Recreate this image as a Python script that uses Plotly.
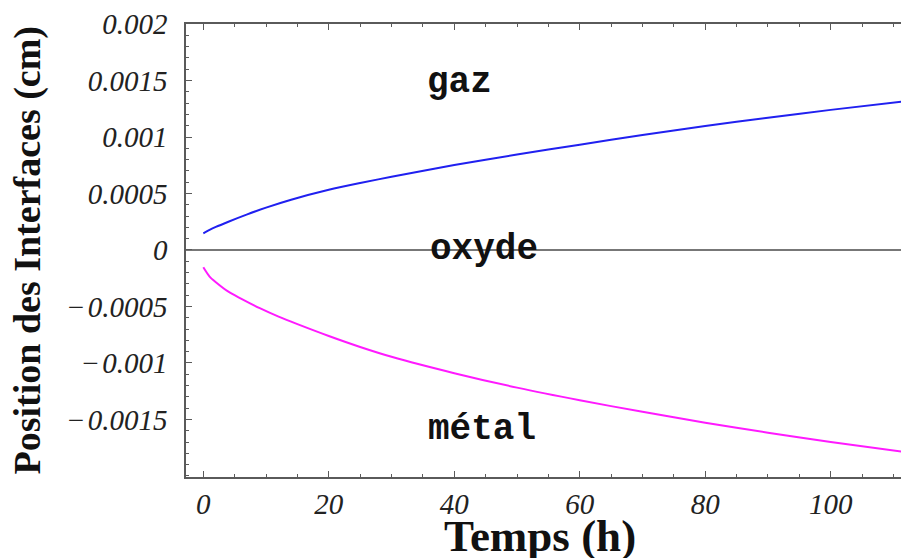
import plotly.graph_objects as go

# Time (h)
t_gaz = [0, 1, 2, 4, 7, 10, 14, 20, 25, 30, 40, 50, 60, 70, 80, 90, 100, 111.5]
# gas/oxide interface position (cm)
pos_gaz = [0.000148, 0.000178, 0.000204, 0.000250, 0.000315, 0.000375, 0.000445,
           0.000533, 0.000593, 0.000648, 0.000752, 0.000845, 0.000932, 0.001017,
           0.001098, 0.001170, 0.001240, 0.001313]

t_metal = [0, 1, 2, 4, 6, 9, 12, 15, 20, 25, 30, 40, 50, 60, 70, 80, 90, 100, 111.5]
# oxide/metal interface position (cm)
pos_metal = [-0.000153, -0.000235, -0.000285, -0.000369, -0.000430, -0.000515, -0.000590,
             -0.000656, -0.000761, -0.000858, -0.000945, -0.001090, -0.001218, -0.001330,
             -0.001432, -0.001528, -0.001617, -0.001700, -0.001785]

x_ticks = [0, 20, 40, 60, 80, 100]
x_ticklabels = ["0", "20", "40", "60", "80", "100"]
y_ticks = [-0.0015, -0.001, -0.0005, 0, 0.0005, 0.001, 0.0015, 0.002]
y_ticklabels = ["\u2212\u200a0.0015", "\u2212\u200a0.001", "\u2212\u200a0.0005", "0",
                "0.0005", "0.001", "0.0015", "0.002"]

region_labels = ["gaz", "oxyde", "métal"]
region_t = [40.9, 44.8, 44.4]
region_pos = [0.001480, 0.0000050, -0.001590]

# the page body adds an 8px offset, so the figure is 8px smaller than the window
W, H = 901, 550
ML, MR, MT, MB = 178, 0, 16, 81
PW, PH = W - ML - MR, H - MT - MB

frame_col = "#5a5a5a"
tick_font = dict(family="Liberation Serif, Times New Roman, serif", size=29,
                 color="#222222", style="italic")

fig = go.Figure()
fig.add_trace(go.Scatter(x=t_gaz, y=pos_gaz, mode="lines",
                         line=dict(color="#2020f0", width=2, shape="spline", smoothing=0.8),
                         showlegend=False))
fig.add_trace(go.Scatter(x=t_metal, y=pos_metal, mode="lines",
                         line=dict(color="#ff1aff", width=2, shape="spline", smoothing=0.8),
                         showlegend=False))

for txt, tx, ty in zip(region_labels, region_t, region_pos):
    fig.add_annotation(x=tx, y=ty, xref="x", yref="y", text=txt, showarrow=False,
                       xanchor="center", yanchor="middle",
                       font=dict(family="Courier New, Liberation Mono, monospace",
                                 size=36, color="#111111", weight="bold"))

fig.add_annotation(xref="paper", yref="paper", x=(532 - ML) / PW, y=(MT + PH - 528) / PH,
                   text="Temps (h)", showarrow=False, xanchor="center", yanchor="middle",
                   font=dict(family="Liberation Serif, Times New Roman, serif", size=45,
                             color="#111111", weight="bold"))
fig.add_annotation(xref="paper", yref="paper", x=(19 - ML) / PW, y=0.5,
                   text="Position des Interfaces (cm)", showarrow=False, textangle=-90,
                   xanchor="center", yanchor="middle",
                   font=dict(family="Liberation Serif, Times New Roman, serif", size=38,
                             color="#111111", weight="bold"))

fig.update_xaxes(range=[-2.76, 112.48], tickvals=x_ticks, ticktext=x_ticklabels,
                 showgrid=False, zeroline=False, showline=True, linecolor=frame_col,
                 linewidth=1.5, mirror="ticks", ticks="inside", ticklen=6, tickwidth=1.2,
                 tickcolor=frame_col, tickfont=tick_font, ticklabelstandoff=0,
                 minor=dict(dtick=5, ticks="inside", ticklen=3, tickcolor=frame_col,
                            tickwidth=1, showgrid=False))
fig.update_yaxes(range=[-0.002009, 0.002], tickvals=y_ticks, ticktext=y_ticklabels,
                 showgrid=False, zeroline=True, zerolinecolor="#777777", zerolinewidth=1.5,
                 showline=True, linecolor=frame_col, linewidth=1.5, mirror=False,
                 ticks="inside", ticklen=6, tickwidth=1.2, tickcolor=frame_col,
                 tickfont=tick_font, ticklabelstandoff=11,
                 minor=dict(dtick=0.0001, tick0=0, ticks="inside", ticklen=3,
                            tickcolor=frame_col, tickwidth=1, showgrid=False))

fig.update_layout(width=W, height=H, margin=dict(l=ML, r=MR, t=MT, b=MB, autoexpand=False),
                  plot_bgcolor="white", paper_bgcolor="white")

fig.write_html("out.html")
